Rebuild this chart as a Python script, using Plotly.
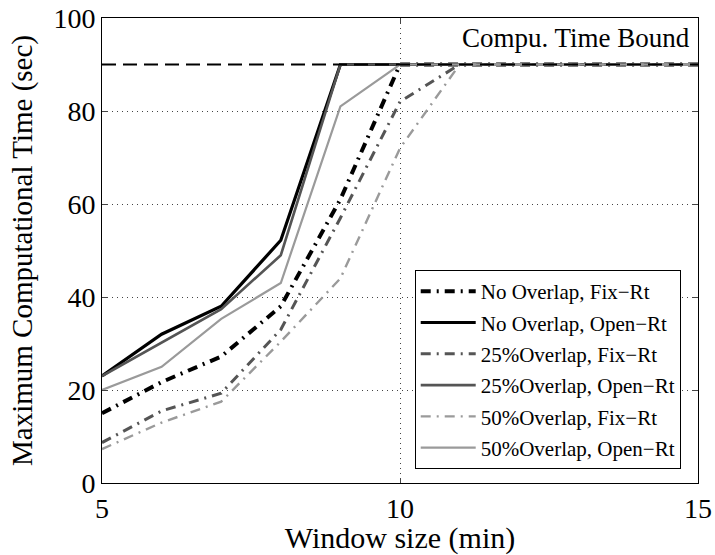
import plotly.graph_objects as go

window = [5, 6, 7, 8, 9, 10, 11, 12, 13, 14, 15]
no_fix = [15, 21.7, 27.2, 38, 61, 90, 90, 90, 90, 90, 90]
no_open = [23, 32, 38, 52.2, 90, 90, 90, 90, 90, 90, 90]
p25_fix = [8.7, 15.5, 19.3, 33, 57, 82, 90, 90, 90, 90, 90]
p25_open = [23, 30.2, 37.4, 49, 90, 90, 90, 90, 90, 90, 90]
p50_fix = [7.3, 13, 17.5, 30.4, 44, 72, 90, 90, 90, 90, 90]
p50_open = [20, 25, 35.3, 43, 81, 90, 90, 90, 90, 90, 90]
bound = [90, 90]
bound_x = [5, 15]

names = ["No Overlap, Fix\u2212Rt", "No Overlap, Open\u2212Rt",
         "25%Overlap, Fix\u2212Rt", "25%Overlap, Open\u2212Rt",
         "50%Overlap, Fix\u2212Rt", "50%Overlap, Open\u2212Rt"]
series = [no_fix, no_open, p25_fix, p25_open, p50_fix, p50_open]
styles = [("#000000", 4, "10px,6px,2px,6px"), ("#000000", 3.2, "solid"),
          ("#555555", 3, "10px,6px,2px,6px"), ("#555555", 2.6, "solid"),
          ("#9a9a9a", 2.4, "10px,6px,2px,6px"), ("#9a9a9a", 2.2, "solid")]

FONT = "Liberation Serif, Times New Roman, serif"

fig = go.Figure()
for i, (nm, ys, (c, w, d)) in enumerate(zip(names, series, styles)):
    fig.add_trace(go.Scatter(x=window, y=ys, mode="lines", name=nm, legendgroup=f"g{i}",
                             line=dict(color=c, width=w, dash=d)))
fig.add_trace(go.Scatter(x=bound_x, y=bound, mode="lines", showlegend=False,
                         line=dict(color="#000000", width=2, dash="14px,7px")))

fig.add_annotation(x=1.0, y=95.8, xref="paper", yref="y", text="Compu. Time Bound",
                   showarrow=False, xanchor="right", yanchor="middle", xshift=-6,
                   font=dict(size=27, color="black", family=FONT))

fig.update_layout(
    width=715, height=555,
    margin=dict(l=102, r=17, t=18, b=72),
    paper_bgcolor="white", plot_bgcolor="white",
    font=dict(family=FONT, color="black"),
    legend=dict(x=0.971, y=0.03, xanchor="right", yanchor="bottom",
                bgcolor="white", bordercolor="black", borderwidth=1,
                font=dict(size=21, family=FONT),
                tracegroupgap=1, itemwidth=55),
    showlegend=True,
)
fig.update_xaxes(range=[5, 15], tickvals=[5, 10, 15], ticks="inside", ticklen=5,
                 showline=True, linecolor="black", linewidth=1, mirror="allticks",
                 showgrid=True, gridcolor="#444444", griddash="1px,4px", gridwidth=1,
                 zeroline=False, tickfont=dict(size=28), automargin=False,
                 title=dict(text="Window size (min)", font=dict(size=30), standoff=2))
fig.update_yaxes(range=[0, 100], tickvals=[0, 20, 40, 60, 80, 100], ticks="inside", ticklen=5,
                 showline=True, linecolor="black", linewidth=1, mirror="allticks",
                 showgrid=True, gridcolor="#444444", griddash="1px,4px", gridwidth=1,
                 zeroline=False, tickfont=dict(size=28), automargin=False,
                 title=dict(text="Maximum Computational Time (sec)", font=dict(size=29), standoff=12))

fig.write_html("out.html")
